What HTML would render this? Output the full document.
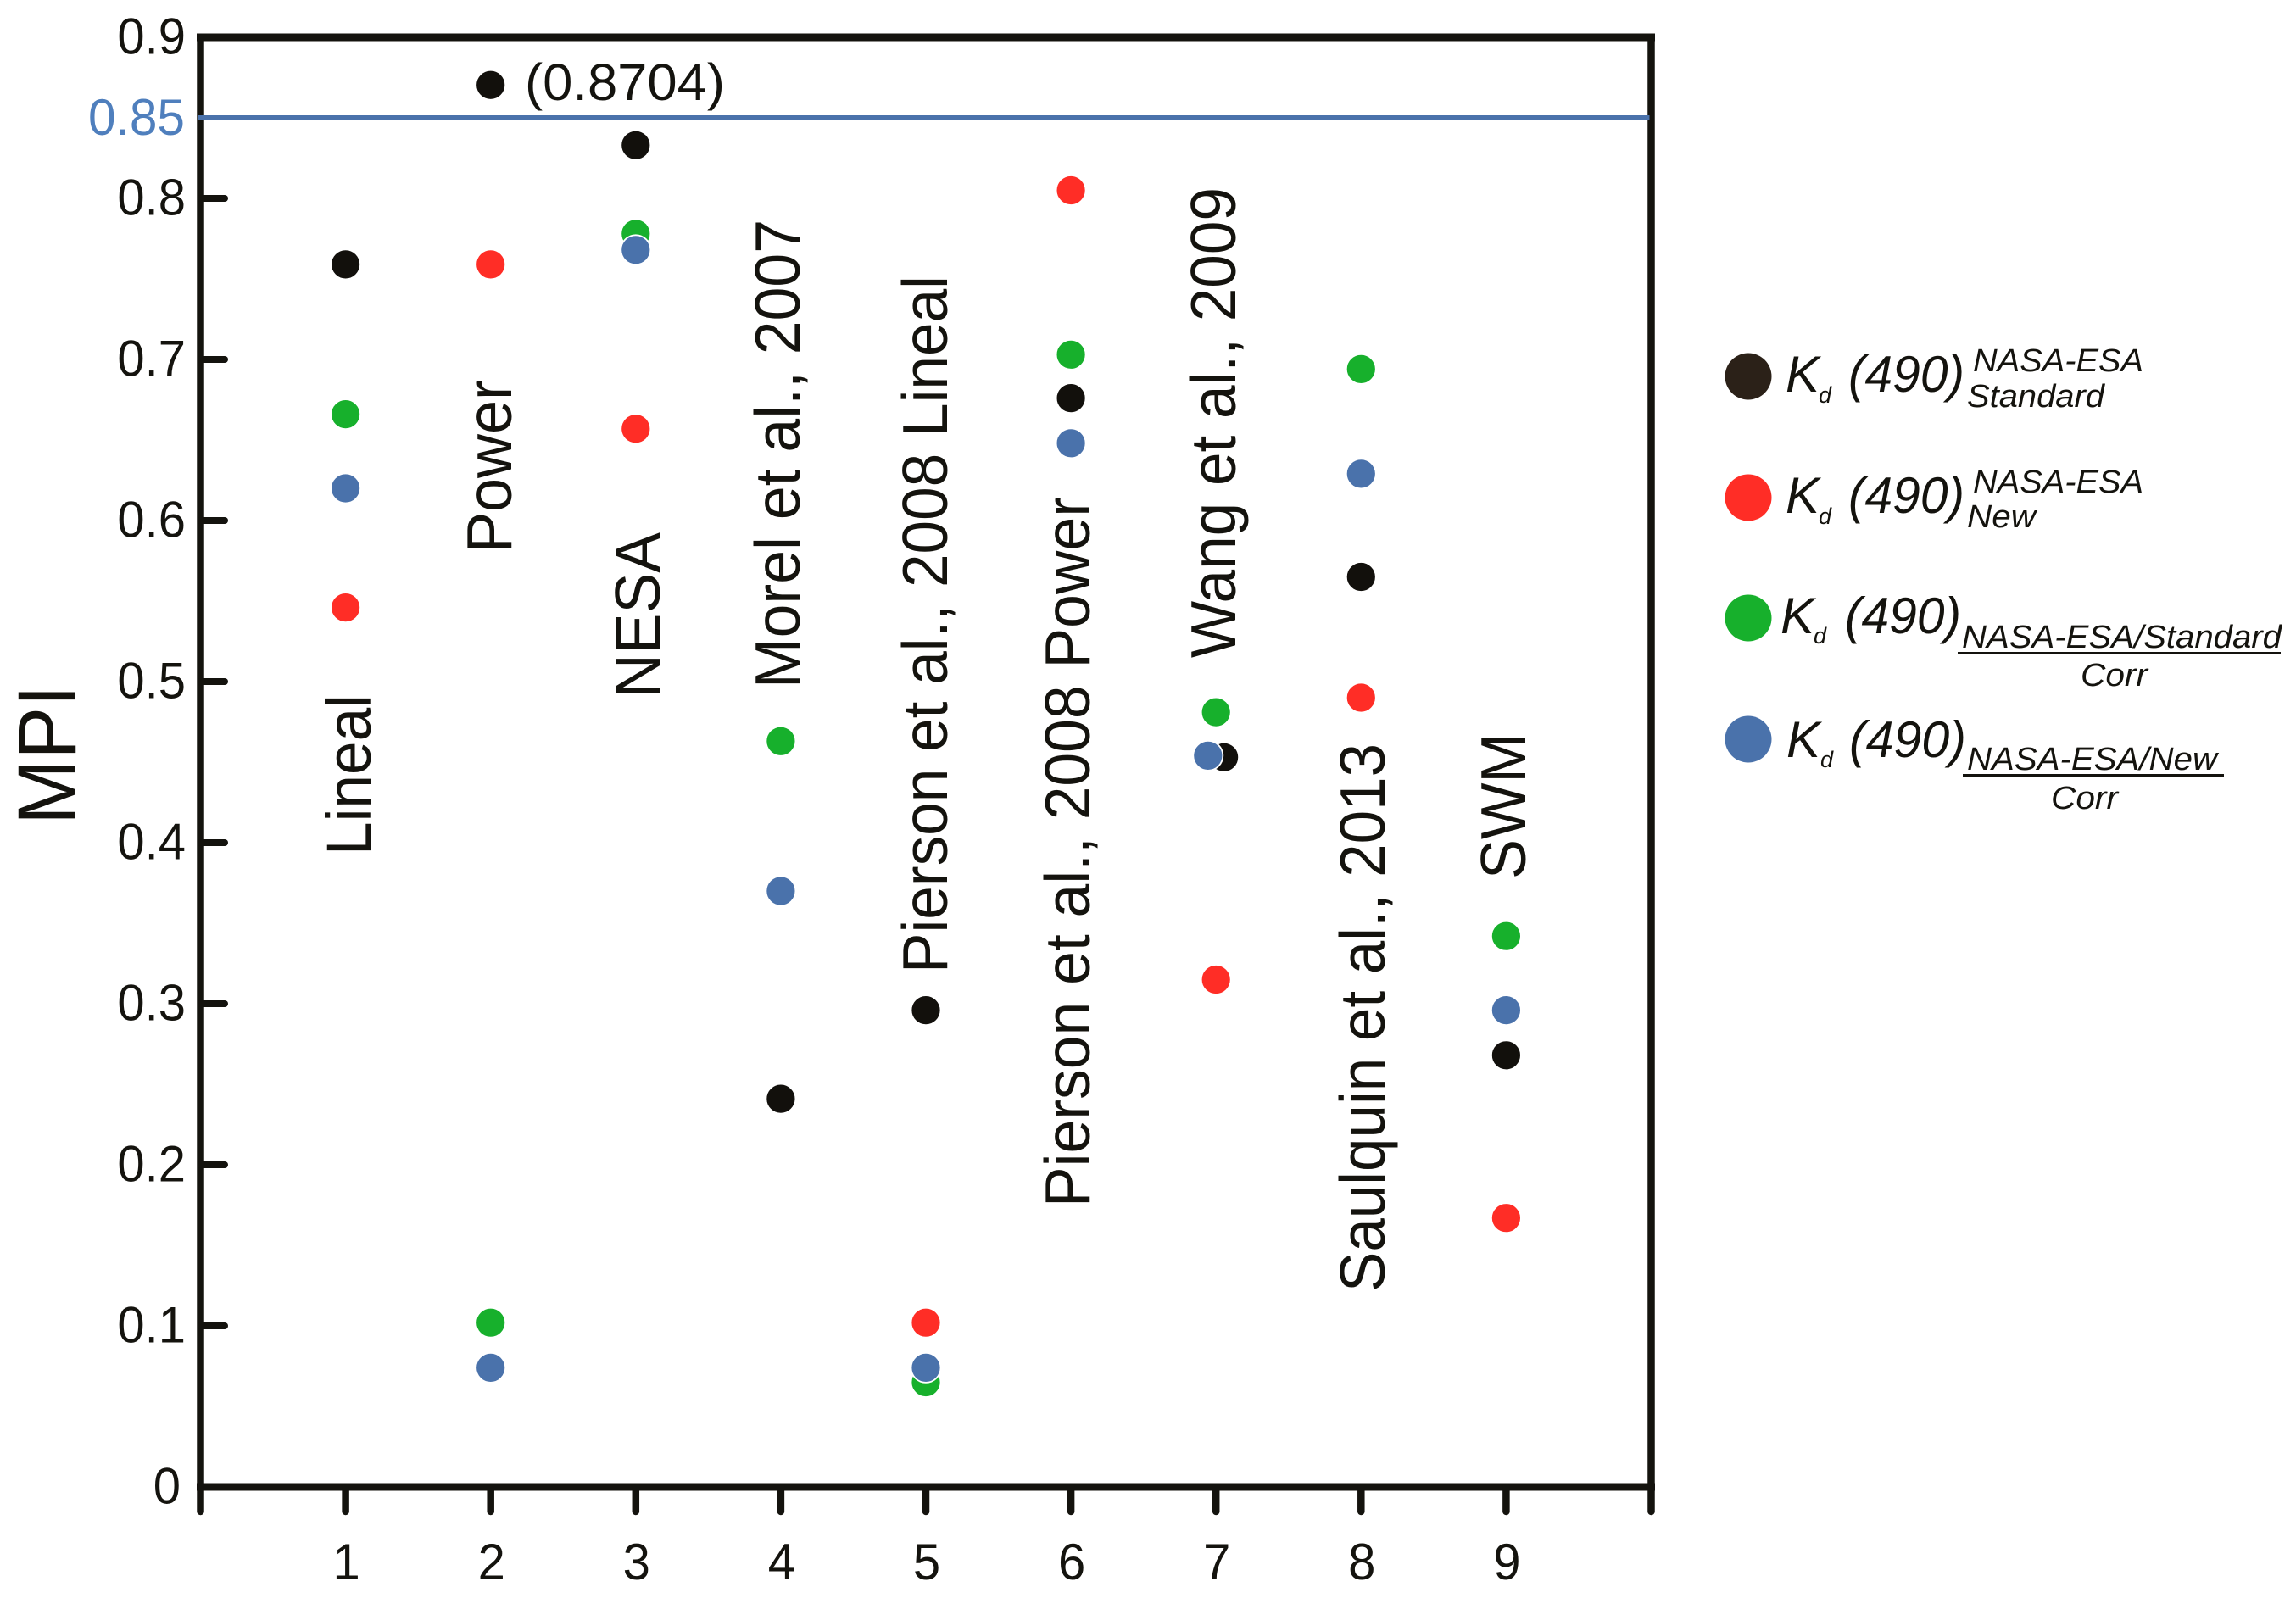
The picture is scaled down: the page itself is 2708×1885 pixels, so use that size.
<!DOCTYPE html>
<html lang="en">
<head>
<meta charset="utf-8">
<title>MPI scatter chart</title>
<style>
html,body{margin:0;padding:0;background:#fff;}
svg{display:block;}
text{font-family:"Liberation Sans",sans-serif;fill:#14130e;}
.it{font-style:italic;}
</style>
</head>
<body>
<svg id="chart" xmlns="http://www.w3.org/2000/svg" width="2708" height="1885" viewBox="0 0 2708 1885">
  <rect x="0" y="0" width="2708" height="1885" fill="#ffffff"/>
  <g id="axes"></g>
  <g id="model-labels">
    <text transform="translate(437,1009) rotate(-90)" font-size="74" textLength="190" lengthAdjust="spacingAndGlyphs">Lineal</text>
    <text transform="translate(603,652) rotate(-90)" font-size="75" textLength="204" lengthAdjust="spacingAndGlyphs">Power</text>
    <text transform="translate(778,823) rotate(-90)" font-size="75" textLength="195" lengthAdjust="spacingAndGlyphs">NESA</text>
    <text transform="translate(943,812) rotate(-90)" font-size="75" textLength="553" lengthAdjust="spacingAndGlyphs">Morel et al., 2007</text>
    <text transform="translate(1117,1148) rotate(-90)" font-size="75" textLength="823" lengthAdjust="spacingAndGlyphs">Pierson et al., 2008 Lineal</text>
    <text transform="translate(1285,1424) rotate(-90)" font-size="75" textLength="838" lengthAdjust="spacingAndGlyphs">Pierson et al., 2008 Power</text>
    <text transform="translate(1457,776) rotate(-90)" font-size="75" textLength="555" lengthAdjust="spacingAndGlyphs">Wang et al., 2009</text>
    <text transform="translate(1633,1524) rotate(-90)" font-size="75" textLength="647" lengthAdjust="spacingAndGlyphs">Saulquin et al., 2013</text>
    <text transform="translate(1799,1037) rotate(-90)" font-size="75" textLength="172" lengthAdjust="spacingAndGlyphs">SWM</text>
  </g>
  <g id="points"></g>
  <text x="619" y="118" font-size="61" textLength="236" lengthAdjust="spacingAndGlyphs">(0.8704)</text>
  <text transform="translate(89,973) rotate(-90)" font-size="97" textLength="165" lengthAdjust="spacingAndGlyphs">MPI</text>

  <g>
    <g>
      <circle cx="2062" cy="444" r="27.5" fill="#2b2118"/>
      <text class="it" x="2106" y="462" font-size="60" textLength="40" lengthAdjust="spacingAndGlyphs">K</text>
      <text class="it" x="2145" y="475" font-size="27">d</text>
      <text class="it" x="2180" y="462" font-size="60" textLength="137" lengthAdjust="spacingAndGlyphs">(490)</text>
      <text class="it" x="2327" y="438" font-size="38" textLength="201" lengthAdjust="spacingAndGlyphs">NASA-ESA</text>
      <text class="it" x="2320" y="480" font-size="38" textLength="162" lengthAdjust="spacingAndGlyphs">Standard</text>
    </g>
    <g>
      <circle cx="2062" cy="587" r="27.5" fill="#ff2d26"/>
      <text class="it" x="2106" y="605" font-size="60" textLength="40" lengthAdjust="spacingAndGlyphs">K</text>
      <text class="it" x="2145" y="618" font-size="27">d</text>
      <text class="it" x="2180" y="605" font-size="60" textLength="137" lengthAdjust="spacingAndGlyphs">(490)</text>
      <text class="it" x="2327" y="581" font-size="38" textLength="201" lengthAdjust="spacingAndGlyphs">NASA-ESA</text>
      <text class="it" x="2320" y="622" font-size="38" textLength="81" lengthAdjust="spacingAndGlyphs">New</text>
    </g>
    <g>
      <circle cx="2062" cy="729" r="27.5" fill="#17b02c"/>
      <text class="it" x="2100" y="747" font-size="60" textLength="40" lengthAdjust="spacingAndGlyphs">K</text>
      <text class="it" x="2139" y="759" font-size="27">d</text>
      <text class="it" x="2176" y="747" font-size="60" textLength="137" lengthAdjust="spacingAndGlyphs">(490)</text>
      <text class="it" x="2314" y="764" font-size="38" textLength="377" lengthAdjust="spacingAndGlyphs">NASA-ESA/Standard</text>
      <rect x="2309" y="769" width="381" height="3" fill="#14130e"/>
      <text class="it" x="2454" y="809" font-size="38" textLength="79" lengthAdjust="spacingAndGlyphs">Corr</text>
    </g>
    <g>
      <circle cx="2062" cy="872" r="27.5" fill="#4a72ab"/>
      <text class="it" x="2107" y="893" font-size="60" textLength="40" lengthAdjust="spacingAndGlyphs">K</text>
      <text class="it" x="2147" y="905" font-size="27">d</text>
      <text class="it" x="2181" y="893" font-size="60" textLength="138" lengthAdjust="spacingAndGlyphs">(490)</text>
      <text class="it" x="2320" y="908" font-size="38" textLength="295" lengthAdjust="spacingAndGlyphs">NASA-ESA/New</text>
      <rect x="2315" y="913" width="308" height="3" fill="#14130e"/>
      <text class="it" x="2419" y="954" font-size="38" textLength="79" lengthAdjust="spacingAndGlyphs">Corr</text>
    </g>
  </g>
</svg>
<script>
const xTickLabels = ['1','2','3','4','5','6','7','8','9'];
const yTickLabels = ['0','0.1','0.2','0.3','0.4','0.5','0.6','0.7','0.8','0.9'];
const yTickValues = [0,0.1,0.2,0.3,0.4,0.5,0.6,0.7,0.8,0.9];
const xTickValues = [1,2,3,4,5,6,7,8,9];
const thresholdValue = 0.85;
const thresholdLabel = '0.85';

const blackCategories = [1,2,3,4,5,6,7.055,8,9];
const blackValues = [0.759,0.8704,0.833,0.241,0.296,0.676,0.453,0.565,0.268];
const redCategories = [1,2,3,5,6,7,8,9];
const redValues = [0.546,0.759,0.657,0.102,0.805,0.315,0.49,0.167];
const greenCategories = [1,2,3,4,5,6,7,8,9];
const greenValues = [0.666,0.102,0.778,0.463,0.065,0.703,0.481,0.694,0.342];
const blueCategories = [1,2,3,4,5,6,6.945,8,9];
const blueValues = [0.62,0.074,0.768,0.37,0.074,0.648,0.454,0.629,0.296];

const SVGNS = 'http://www.w3.org/2000/svg';
const xScale = v => 236.5 + v * 171.1;
const yScale = v => 1754 - v * 1900;
const AXIS = '#14130e';
const axes = document.getElementById('axes');
const points = document.getElementById('points');

function make(tag, attrs, parent) {
  const el = document.createElementNS(SVGNS, tag);
  for (const k in attrs) el.setAttribute(k, attrs[k]);
  parent.appendChild(el);
  return el;
}

function labelWidth(s) {
  let units = 0;
  for (const c of s) units += c === '.' ? 0.278 : 0.556;
  return units * 58;
}

const frameTop = make('line', {x1:232, x2:1952, y1:yScale(0.9), y2:yScale(0.9), stroke:AXIS, 'stroke-width':9}, axes);


const frameBottom = make('line', {x1:232, x2:1952, y1:yScale(0), y2:yScale(0), stroke:AXIS, 'stroke-width':9}, axes);


const frameLeft = make('line', {x1:xScale(0), x2:xScale(0), y1:yScale(0.9), y2:1783, stroke:AXIS, 'stroke-width':8.5, 'stroke-linecap':'round'}, axes);


const frameRight = make('line', {x1:xScale(10), x2:xScale(10), y1:yScale(0.9), y2:1783, stroke:AXIS, 'stroke-width':8.5, 'stroke-linecap':'round'}, axes);



yTickValues.forEach((v, i) => {
  if (v > 0 && v < 0.9) {
    const tick = make('line', {x1:xScale(0), x2:265, y1:yScale(v), y2:yScale(v), stroke:AXIS, 'stroke-width':8, 'stroke-linecap':'round'}, axes);
    
    
  }
  const label = make('text', {x: yTickLabels[i] === '0' ? 213 : 219, y: yScale(v) + 19.5, 'text-anchor':'end', 'font-size':60, textLength:labelWidth(yTickLabels[i]), lengthAdjust:'spacingAndGlyphs'}, axes);
  
  
  label.textContent = yTickLabels[i];
});

xTickValues.forEach((v, i) => {
  const tick = make('line', {x1:xScale(v), x2:xScale(v), y1:yScale(0), y2:1783, stroke:AXIS, 'stroke-width':8.5, 'stroke-linecap':'round'}, axes);
  
  
  const label = make('text', {x:xScale(v)+1, y:1863, 'text-anchor':'middle', 'font-size':60, textLength:labelWidth(xTickLabels[i]), lengthAdjust:'spacingAndGlyphs'}, axes);
  
  
  label.textContent = xTickLabels[i];
});

const thresholdLine = make('line', {x1:233, x2:xScale(10)-2, y1:yScale(thresholdValue), y2:yScale(thresholdValue), stroke:'#4a72ab', 'stroke-width':6}, axes);


const thresholdText = make('text', {x:218, y:yScale(thresholdValue)+20, 'text-anchor':'end', 'font-size':60, textLength:114, lengthAdjust:'spacingAndGlyphs'}, axes);


thresholdText.style.fill = '#4f7fbd';
thresholdText.textContent = thresholdLabel;

function drawSeries(cats, vals, color, name) {
  vals.forEach((v, i) => {
    const dot = make('circle', {cx:xScale(cats[i]), cy:yScale(v), r:17.5, fill:color, stroke:'#ffffff', 'stroke-width':1.8}, points);
    
    
  });
}
drawSeries(blackCategories, blackValues, '#12100c', 'point-standard');
drawSeries(redCategories, redValues, '#ff2d26', 'point-new');
drawSeries(greenCategories, greenValues, '#17b02c', 'point-standard-corr');
drawSeries(blueCategories, blueValues, '#4a72ab', 'point-new-corr');
</script>
</body>
</html>
